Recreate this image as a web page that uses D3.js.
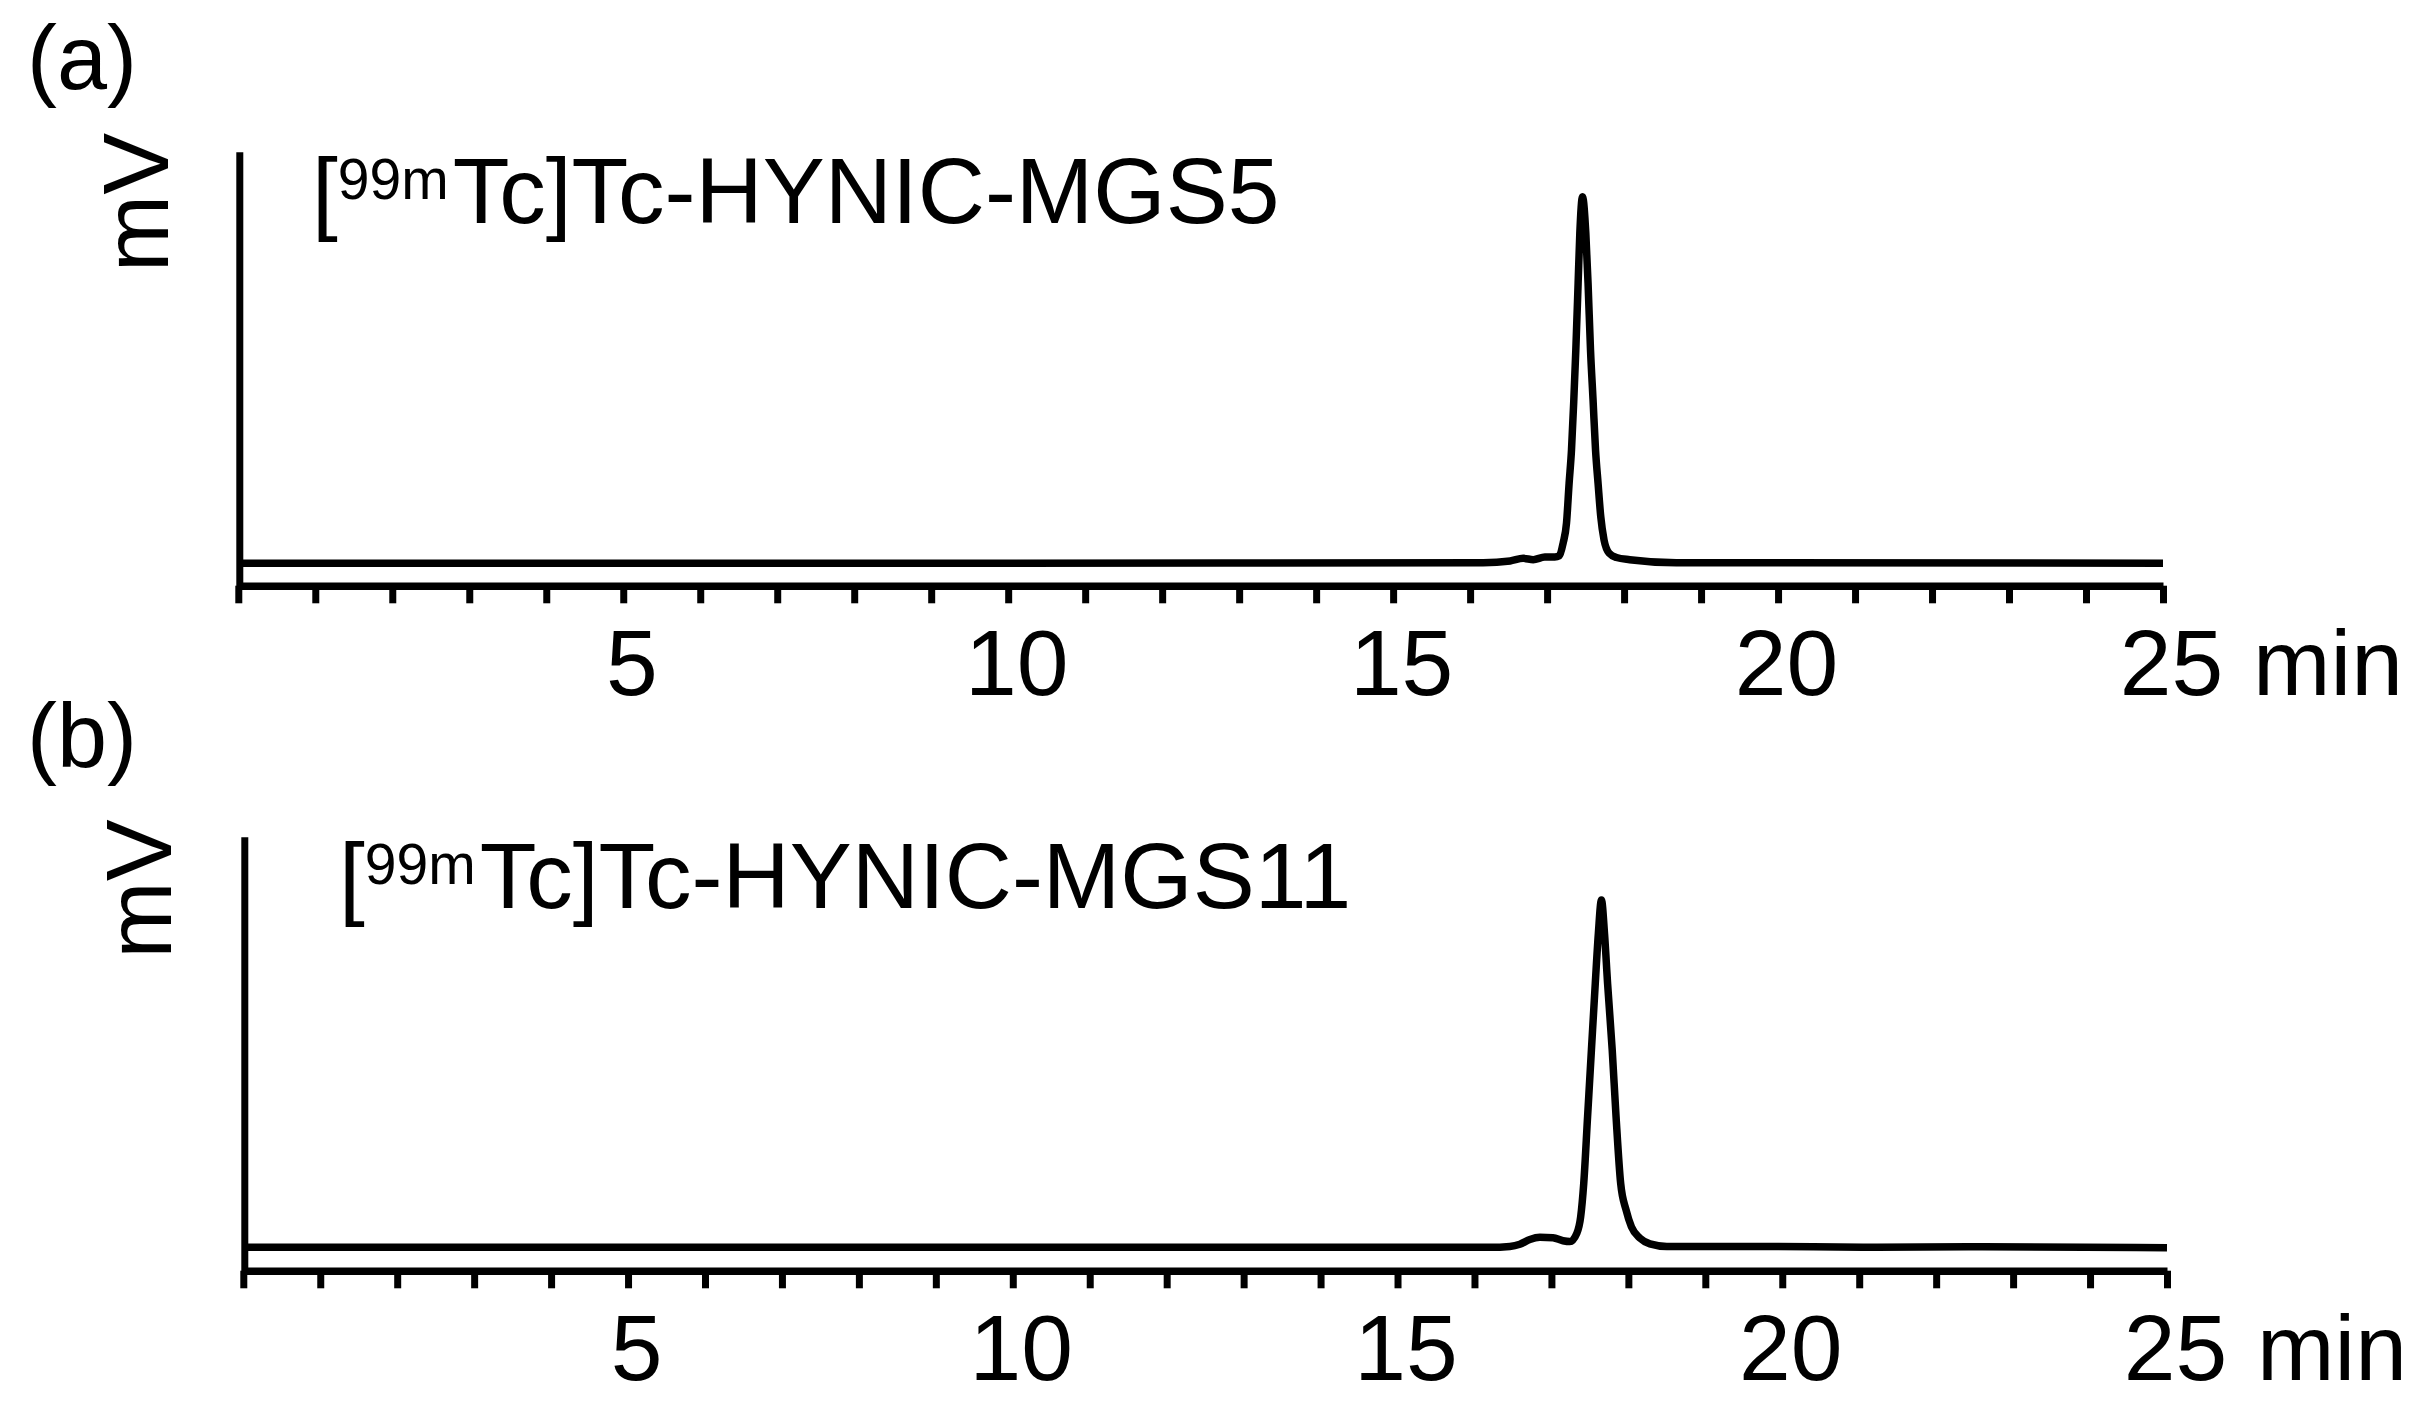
<!DOCTYPE html>
<html>
    <head>
        <meta charset="utf-8">
        <script src="https://d3js.org/d3.v7.min.js"></script>
        <style>
            body { margin: 0; background: #fff; }
            text { font-family: "Liberation Sans", Arial, sans-serif; fill: #000; }
        </style>
    </head>
    <body>
        <script>
            // DATA ////////////////////////////////////////////////////////////////

            const tickMinutes = [0, 1, 2, 3, 4, 5, 6, 7, 8, 9, 10, 11, 12, 13, 14, 15, 16, 17, 18, 19, 20, 21, 22, 23, 24, 25];
            const tickLabels  = { 5: "5", 10: "10", 15: "15", 20: "20", 25: "25" };

            // (a) [99mTc]Tc-HYNIC-MGS5 : retention time (min) / signal (mV, arbitrary)
            const timeA = [0, 10, 16.17, 16.52, 16.69, 16.82, 16.97, 17.10, 17.16,
                           17.208, 17.252, 17.286, 17.317, 17.347, 17.373, 17.403, 17.425, 17.46,
                           17.503, 17.532, 17.564, 17.597, 17.629, 17.662, 17.697, 17.74, 17.805, 17.901,
                           18.073, 18.68, 25];
            const signalA = [5.2, 5.2, 5.3, 5.7, 6.3, 6.0, 6.6, 6.6, 6.9,
                             9.8, 14.4, 23.6, 31.3, 42.8, 54.3, 69.7, 81.2, 89.6,
                             81.2, 69.7, 54.3, 42.8, 31.3, 23.6, 15.9, 10.5, 7.5, 6.5,
                             6.0, 5.3, 5.2];

            // (b) [99mTc]Tc-HYNIC-MGS11
            const timeB = [0, 12, 16.2, 16.46, 16.59, 16.72, 16.85, 17.02, 17.15,
                           17.24, 17.33, 17.38, 17.42, 17.47, 17.52, 17.57, 17.61, 17.65,
                           17.69, 17.73, 17.79, 17.84, 17.90, 17.97, 18.04, 18.15, 18.28, 18.50,
                           19.75, 21.05, 22.6, 25];
            const signalB = [5.4, 5.4, 5.4, 5.6, 6.1, 7.2, 7.7, 7.6, 6.9,
                             6.7, 8.6, 12.4, 20.1, 35.5, 50.9, 66.2, 77.7, 85.4,
                             77.7, 66.2, 50.9, 35.5, 20.1, 14.0, 10.1, 7.5, 6.2, 5.6,
                             5.6, 5.4, 5.5, 5.3];

            const panelTags   = ["(a)", "(b)"];
            const compoundTag = ["MGS5", "MGS11"];

            // LAYOUT //////////////////////////////////////////////////////////////

            const width = 2416;
            const height = 1402;
            const lw = 7.5;

            const panels = [
                { tag: panelTags[0], name: compoundTag[0], t: timeA, v: signalA,
                  x0: 238.3, x1: 2163, axisY: 585.7, topY: 151.7,
                  tagX: 27, tagY: 89, mvX: 168, mvY: 202.5, titleX: 312, titleY: 223.3 },
                { tag: panelTags[1], name: compoundTag[1], t: timeB, v: signalB,
                  x0: 243.3, x1: 2167, axisY: 1270.7, topY: 836.7,
                  tagX: 27, tagY: 767, mvX: 171, mvY: 889, titleX: 339, titleY: 908.3 }
            ];

            const svg = d3.select("body").append("svg")
                .attr("width", width)
                .attr("height", height);

            svg.append("rect").attr("width", width).attr("height", height).attr("fill", "#fff");

            panels.forEach(function(p) {

                // SCALES ////////////////////////////////////////////
                const xSc = d3.scaleLinear().domain([0, 25]).range([p.x0, p.x1]);
                const ySc = d3.scaleLinear().domain([0, 100]).range([p.axisY, p.topY]);

                // X AXIS ////////////////////////////////////////////
                const xg = svg.append("g")
                    .attr("transform", `translate(0,${p.axisY})`)
                    .call(d3.axisBottom(xSc)
                        .tickValues(tickMinutes)
                        .tickSize(17.6)
                        .tickSizeOuter(0)
                        .tickFormat(d => tickLabels[d] || ""));

                xg.select(".domain").attr("stroke", "#000").attr("stroke-width", lw);
                xg.selectAll(".tick line").attr("stroke", "#000").attr("stroke-width", 7);
                xg.selectAll(".tick text")
                    .attr("y", 109.3)
                    .attr("dy", 0)
                    .attr("dx", 8)
                    .style("font-family", '"Liberation Sans", Arial, sans-serif')
                    .style("font-size", "93px")
                    .attr("fill", "#000");

                // "min" unit after the last label
                svg.append("text")
                    .attr("x", xSc(25) + 90)
                    .attr("y", p.axisY + 109.3)
                    .style("font-size", "93px")
                    .text("min");

                // Y AXIS ////////////////////////////////////////////
                const yg = svg.append("g")
                    .attr("transform", `translate(${p.x0 + 1},0)`)
                    .call(d3.axisLeft(ySc).tickValues([]).tickSizeOuter(0));
                yg.select(".domain").attr("stroke", "#000").attr("stroke-width", 7);

                svg.append("text")
                    .attr("transform", `translate(${p.mvX},${p.mvY}) rotate(-90)`)
                    .attr("text-anchor", "middle")
                    .style("font-size", "93px")
                    .text("mV");

                // LABELS ////////////////////////////////////////////
                svg.append("text")
                    .attr("x", p.tagX)
                    .attr("y", p.tagY)
                    .style("font-size", "90px")
                    .text(p.tag);

                const title = svg.append("text")
                    .attr("x", p.titleX)
                    .attr("y", p.titleY)
                    .style("font-size", "93px");
                title.append("tspan").text("[");
                title.append("tspan").attr("dy", -24).style("font-size", "57px").text("99m");
                title.append("tspan").attr("dy", 24).attr("dx", 4).text("Tc]Tc-HYNIC-" + p.name);

                // TRACE /////////////////////////////////////////////
                const pts = p.t.map((d, i) => [d, p.v[i]]);
                const lnMkr = d3.line()
                    .x(d => xSc(d[0]))
                    .y(d => ySc(d[1]))
                    .curve(d3.curveMonotoneX);

                svg.append("path")
                    .attr("d", lnMkr(pts))
                    .attr("fill", "none")
                    .attr("stroke", "#000")
                    .attr("stroke-width", lw)
                    .attr("stroke-linejoin", "round");
            });
        </script>
    </body>
</html>
